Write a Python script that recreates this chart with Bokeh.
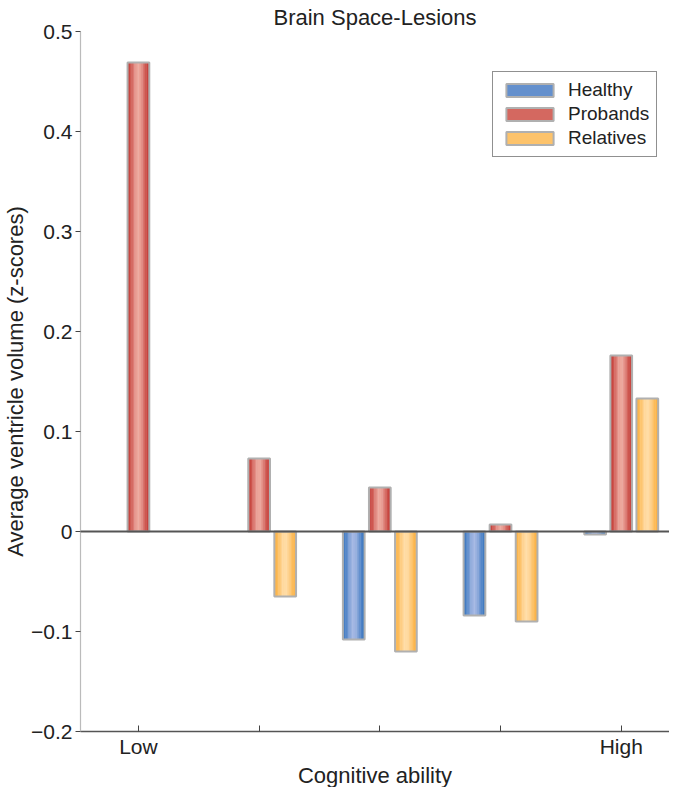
import numpy as np
from bokeh.plotting import figure
from bokeh.models import (ColumnDataSource, FixedTicker, CustomJSTickFormatter,
                          Span, Legend, LegendItem, Range1d, Title)
from bokeh.embed import file_html
from bokeh.resources import INLINE

# ---------------- data ----------------
groups = [1, 2, 3, 4, 5]
x_tick_labels = ["Low", "", "", "", "High"]
series = ["Healthy", "Probands", "Relatives"]
healthy = [np.nan, np.nan, -0.108, -0.084, -0.003]
probands = [0.469, 0.073, 0.044, 0.007, 0.176]
relatives = [np.nan, -0.065, -0.120, -0.090, 0.133]
y_ticks = [-0.2, -0.1, 0, 0.1, 0.2, 0.3, 0.4, 0.5]

edge_colors = ["#3b77bf", "#c43d38", "#fbb244"]
center_colors = ["#a2b6e2", "#eca79c", "#ffdba4"]

FONT = "Liberation Sans"
offsets = [-0.216, 0.0, 0.216]
bar_w = 0.18
N = 16
X_START, X_END = 0.52, 5.40
Y_START, Y_END = -0.2, 0.5


def hex2rgb(h):
    h = h.lstrip("#")
    return np.array([int(h[i:i + 2], 16) for i in (0, 2, 4)], dtype=float)


def mix(c1, c2, f):
    a, b = hex2rgb(c1), hex2rgb(c2)
    c = a + (b - a) * f
    return "#%02x%02x%02x" % tuple(int(round(v)) for v in c)


p = figure(width=669, height=787, output_backend="svg", toolbar_location=None,
           x_range=Range1d(X_START, X_END), y_range=Range1d(Y_START, Y_END),
           min_border_left=0, min_border_right=0, min_border_top=0, min_border_bottom=0)
p.outline_line_color = None
p.xgrid.visible = False
p.ygrid.visible = False

p.title.text = "Brain Space-Lesions"
p.title.align = "center"
p.title.text_font = FONT
p.title.text_font_size = "22px"
p.title.text_font_style = "normal"
p.title.text_color = "#222222"
p.title.text_line_height = 1.0
p.title.standoff = 4
p.title.offset = 0

legend_items = []
for s, vals in enumerate([healthy, probands, relatives]):
    xs, tops, cols = [], [], []
    for g, v in zip(groups, vals):
        if np.isnan(v):
            continue
        left = g + offsets[s] - bar_w / 2
        for i in range(N):
            t = (i + 0.5) / N
            f = np.sin(np.pi * t) ** 2
            xs.append(left + (i + 0.5) * bar_w / N)
            tops.append(v)
            cols.append(mix(edge_colors[s], center_colors[s], f))
    src = ColumnDataSource(dict(x=xs, top=tops, color=cols))
    r_strip = p.vbar(x="x", top="top", bottom=0, width=bar_w / N * 1.3, source=src,
                     fill_color="color", line_color=None)
    osrc = ColumnDataSource(dict(x=[g + offsets[s] for g in groups], top=vals))
    r_out = p.vbar(x="x", top="top", bottom=0, width=bar_w, source=osrc,
                   fill_color=None, line_color="#b0b0b0", line_width=2)
    legend_items.append(LegendItem(label=series[s], renderers=[r_strip, r_out], index=3))

p.add_layout(Span(location=0, dimension="width", line_color="#555555", line_width=2))

# axes
p.xaxis.ticker = FixedTicker(ticks=groups)
p.xaxis.major_label_overrides = {g: lab for g, lab in zip(groups, x_tick_labels)}
p.xaxis.axis_line_color = "#555555"
p.xaxis.axis_line_width = 1.5
p.xaxis.major_tick_in = 6
p.xaxis.major_tick_out = 0
p.xaxis.major_tick_line_color = "#444444"
p.xaxis.minor_tick_line_color = None
p.xaxis.major_label_text_font_size = "21px"
p.xaxis.major_label_text_line_height = 0.8
p.xaxis.major_label_standoff = 3

# x-axis title as a below-panel title
p.add_layout(Title(text="Cognitive ability", align="center", text_font=FONT,
                   text_font_size="22px", text_font_style="normal", text_color="#222222",
                   text_line_height=0.8, standoff=0, offset=0), "below")

p.yaxis.ticker = FixedTicker(ticks=y_ticks)
p.yaxis.formatter = CustomJSTickFormatter(
    code="if (Math.abs(tick) < 1e-9) { return '0'; } return tick.toFixed(1).replace('-', '\u2212');")
p.yaxis.axis_label = "Average ventricle volume (z-scores)"
p.yaxis.axis_line_color = "#bbbbbb"
p.yaxis.axis_line_width = 1.2
p.yaxis.major_tick_in = 0
p.yaxis.major_tick_out = 5
p.yaxis.major_tick_line_color = "#444444"
p.yaxis.minor_tick_line_color = None
p.yaxis.major_label_text_font_size = "21px"
p.yaxis.major_label_standoff = 3
p.yaxis.axis_label_standoff = 0
p.yaxis.axis_label_text_font_size = "22px"

for ax in (p.xaxis, p.yaxis):
    ax.axis_label_text_font = FONT
    ax.axis_label_text_font_style = "normal"
    ax.axis_label_text_color = "#222222"
    ax.major_label_text_font = FONT
    ax.major_label_text_color = "#222222"

legend = Legend(items=legend_items, location=(412, 574))
legend.glyph_width = 59
legend.glyph_height = 16
legend.label_height = 18
legend.spacing = 2
legend.padding = 7
legend.margin = 0
legend.label_standoff = 9
legend.label_text_font = FONT
legend.label_text_font_size = "19px"
legend.label_text_color = "#222222"
legend.border_line_color = "#222222"
legend.border_line_width = 1.6
legend.background_fill_alpha = 1.0
p.add_layout(legend)

open("out.html", "w").write(file_html(p, INLINE))
